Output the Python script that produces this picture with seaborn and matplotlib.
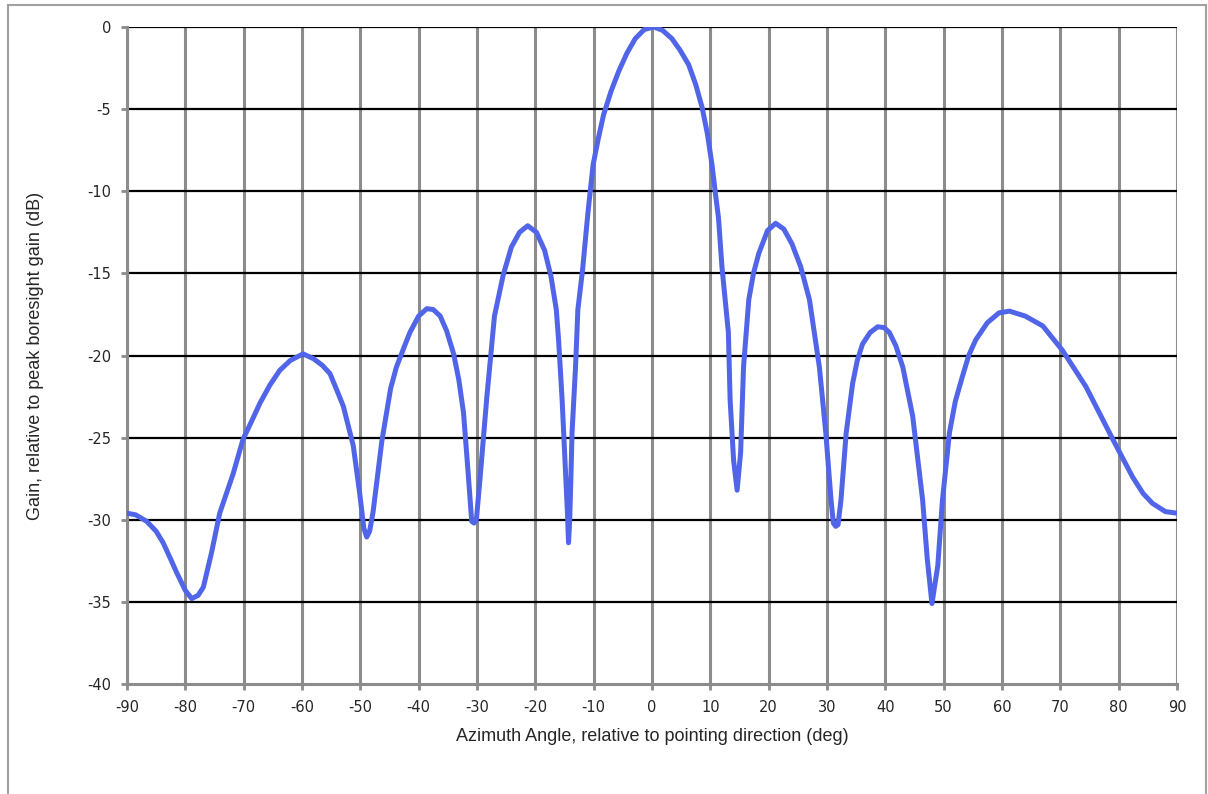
import numpy as np
import pandas as pd
import matplotlib
matplotlib.use("Agg")
import matplotlib.pyplot as plt
import seaborn as sns
from matplotlib.patches import Rectangle

# Azimuth pattern (deg, dB relative to boresight)
azimuth = [
    -90, -88.5, -86.6, -85, -83.8, -82.5, -81.5, -80, -78.9, -77.8,
    -76.9, -75.5, -74.1, -71.8, -70.1, -68.5, -67.2, -65.5, -63.8, -62,
    -59.8, -58, -56.5, -55.2, -53.8, -52.9, -51.2, -50.1, -49.4, -48.9,
    -48.4, -47.8, -46.3, -44.8, -43.8, -42.5, -41.5, -40, -38.6, -37.5,
    -36.3, -35.2, -34.0, -33.1, -32.3, -31.5, -30.9, -30.5, -30.1, -29.5,
    -28.3, -27.0, -25.5, -24.1, -22.7, -21.3, -19.8, -18.4, -17.3, -16.4,
    -16.0, -15.4, -14.85, -14.5, -14.3, -14.1, -13.9, -13.7, -13.1, -12.7,
    -11.9, -11.25, -11.0, -10.1, -9.2, -8.3, -7.0, -5.7, -4.3, -2.85,
    -1.3, 0.3, 1.8, 3.4, 4.8, 6.3, 7.5, 8.6, 9.5,
    10.3, 10.9, 11.4, 12.0, 13.1, 13.4, 14.0, 14.6, 15.2,
    15.7, 16.6, 17.4, 18.3, 19.8, 21.2, 22.6, 24.0, 25.5, 27.0, 28.7,
    29.8, 30.7, 31.1, 31.5, 31.9, 32.4, 33.3, 34.4, 35.2, 36.1, 37.4, 38.7,
    39.8, 40.7, 41.8, 43.0, 44.7, 46.4, 47.2, 48.0, 49.0, 49.8, 51.0, 52.0,
    53.2, 54.3, 55.5, 57.5, 59.5, 61.3, 64.0, 67.0, 70.4, 74.4, 79.0, 82.4,
    84.2, 85.8, 88.0, 90.0,
]
gain_db = [
    -29.6, -29.7, -30.1, -30.7, -31.4, -32.4, -33.2, -34.3, -34.8, -34.6,
    -34.1, -32.0, -29.6, -27.2, -25.1, -23.9, -22.9, -21.8, -20.9, -20.3,
    -19.9, -20.2, -20.6, -21.1, -22.3, -23.1, -25.5, -28.4, -30.5, -31.05,
    -30.7, -29.5, -25.2, -22.0, -20.7, -19.5, -18.6, -17.6, -17.15, -17.2,
    -17.6, -18.5, -19.9, -21.5, -23.5, -27.2, -30.1, -30.2, -30.0, -27.6,
    -22.5, -17.6, -15.1, -13.4, -12.5, -12.1, -12.5, -13.6, -15.2, -17.2,
    -19.1, -22.7, -26.8, -29.5, -31.4, -30.0, -27.5, -24.7, -20.7, -17.2,
    -14.8, -12.3, -11.4, -8.4, -6.8, -5.35, -3.9, -2.7, -1.6, -0.7,
    -0.15, 0.0, -0.2, -0.7, -1.4, -2.3, -3.5, -4.9, -6.5,
    -8.4, -10.2, -11.6, -14.6, -18.6, -22.7, -26.4, -28.2, -25.9,
    -20.7, -16.6, -15.0, -13.8, -12.4, -11.95, -12.3, -13.2, -14.6, -16.6, -20.7,
    -24.7, -28.8, -30.2, -30.4, -30.3, -28.8, -24.7, -21.7, -20.3, -19.3, -18.6, -18.25,
    -18.3, -18.6, -19.4, -20.7, -23.7, -28.8, -32.4, -35.1, -32.8, -28.8, -24.7, -22.8,
    -21.3, -20.0, -19.05, -18.0, -17.4, -17.3, -17.6, -18.2, -19.7, -21.9, -25.1, -27.4,
    -28.4, -29.0, -29.5, -29.6,
]
x_ticks = list(range(-90, 91, 10))
y_ticks = list(range(-40, 1, 5))

df = pd.DataFrame({"azimuth": azimuth, "gain": gain_db})

sns.set_style("white")
plt.rcParams["font.family"] = ["DejaVu Sans"]

fig = plt.figure(figsize=(12.08, 7.94), dpi=100)
ax = fig.add_axes([0.1051, 0.1385, 0.8692, 0.8275])

sns.lineplot(data=df, x="azimuth", y="gain", sort=False, estimator=None,
             color="#5165E8", linewidth=3.6, ax=ax, zorder=5)
ax.lines[0].set_solid_joinstyle("round")
ax.lines[0].set_solid_capstyle("round")

ax.set_xlim(-90, 90)
ax.set_ylim(-40, 0)
ax.set_xticks(x_ticks)
ax.set_yticks(y_ticks)
ax.set_xticklabels([str(t) for t in x_ticks], fontsize=10.5)
ax.set_yticklabels([str(t) for t in y_ticks], fontsize=10.5)

# grid: gray verticals, black horizontals
for t in x_ticks:
    ax.axvline(t, color="#8c8c8c", lw=2.2, zorder=1)
for t in y_ticks:
    if t != -40:
        ax.axhline(t, color="black", lw=1.6, zorder=2)

for s in ["top", "right"]:
    ax.spines[s].set_visible(False)
for s in ["left", "bottom"]:
    ax.spines[s].set_color("#8c8c8c")
    ax.spines[s].set_linewidth(2.2)
    ax.spines[s].set_zorder(3)

ax.tick_params(axis="both", direction="out", length=4.5, width=2,
               color="#8c8c8c", pad=7, bottom=True, left=True)

ax.set_xlabel("Azimuth Angle, relative to pointing direction (deg)",
              family="Liberation Sans", fontsize=13)
ax.set_ylabel("Gain, relative to peak boresight gain (dB)",
              family="Liberation Sans", fontsize=13)
ax.xaxis.set_label_coords(0.5, -0.067)
ax.yaxis.set_label_coords(-0.079, 0.5)

# outer chart border
fig.patches.append(Rectangle((8 / 1208, -0.02), 1198 / 1208, 1.02 - 5 / 794,
                             transform=fig.transFigure, fill=False,
                             edgecolor="#a0a0a0", lw=1.5))

fig.savefig("out.png", dpi=100)
